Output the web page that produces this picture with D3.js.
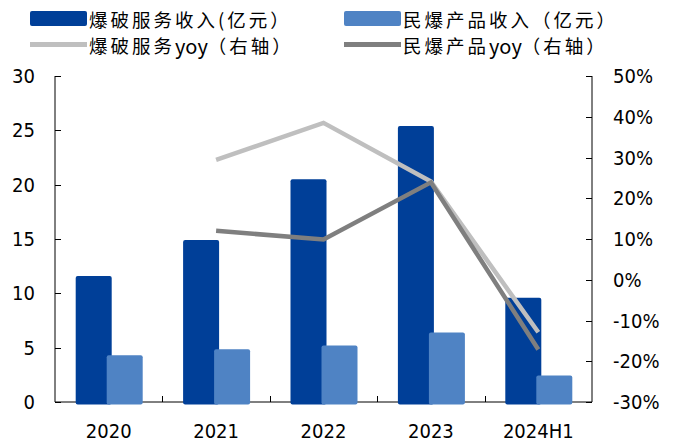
<!DOCTYPE html>
<html><head><meta charset="utf-8">
<script src="https://cdn.jsdelivr.net/npm/d3@7"></script>
<style>
html,body{margin:0;padding:0;background:#fff;}
svg{display:block;}
.num{font-family:"DejaVu Sans Condensed","DejaVu Sans",sans-serif;font-stretch:condensed;font-size:20px;fill:#000;}
.leg{font-family:"Noto Sans CJK SC",sans-serif;font-size:18.5px;letter-spacing:3px;fill:#000;}
</style></head>
<body>
<script>
const categories = ["2020","2021","2022","2023","2024H1"];
const blastRevenue = [11.6, 14.9, 20.5, 25.4, 9.6];
const productRevenue = [4.3, 4.85, 5.2, 6.4, 2.45];
const blastYoy = [null, 29.4, 38.5, 24.1, -12.9];
const productYoy = [null, 12.0, 9.9, 23.9, -17.1];
const leftTicks = [0,5,10,15,20,25,30];
const rightTicks = [-30,-20,-10,0,10,20,30,40,50];
const legendLabels = ["爆破服务收入(亿元）","民爆产品收入（亿元）","爆破服务yoy（右轴）","民爆产品yoy（右轴）"];

const W=680,H=444;
const svg=d3.select("body").append("svg").attr("width",W).attr("height",H);
const x=d3.scaleBand().domain(categories).range([55,592]).padding(0);
const yL=d3.scaleLinear().domain([0,30]).range([402,76]);
const yR=d3.scaleLinear().domain([-30,50]).range([402,76]);
const cx=c=>x(c)+x.bandwidth()/2;
const darkC="#003F98", lightC="#4F83C4", lgray="#BFBFBF", dgray="#7F7F7F";

// axes lines
const axC="#000";
svg.append("line").attr("x1",55).attr("x2",55).attr("y1",yL(30)).attr("y2",yL(0)).attr("stroke",axC);
svg.append("line").attr("x1",592).attr("x2",592).attr("y1",yR(50)).attr("y2",yR(-30)).attr("stroke",axC);
svg.append("line").attr("x1",55).attr("x2",592).attr("y1",yL(0)).attr("y2",yL(0)).attr("stroke",axC);
// left ticks
svg.selectAll(".lt").data(leftTicks).enter().append("line")
 .attr("x1",55).attr("x2",61).attr("y1",d=>Math.round(yL(d))+0.5).attr("y2",d=>Math.round(yL(d))+0.5).attr("stroke",axC);
svg.selectAll(".ll").data(leftTicks).enter().append("text").attr("class","num")
 .attr("x",35).attr("y",d=>yL(d)).attr("text-anchor","end").attr("dominant-baseline","central").text(d=>d);
// right ticks
svg.selectAll(".rt").data(rightTicks).enter().append("line")
 .attr("x1",586).attr("x2",592).attr("y1",d=>Math.round(yR(d))+0.5).attr("y2",d=>Math.round(yR(d))+0.5).attr("stroke",axC);
svg.selectAll(".rl").data(rightTicks).enter().append("text").attr("class","num")
 .attr("x",613).attr("y",d=>yR(d)).attr("dominant-baseline","central").text(d=>d+"%");
// bottom ticks (boundaries)
svg.selectAll(".bt").data(categories.slice(1)).enter().append("line")
 .attr("x1",d=>Math.round(x(d))+0.5).attr("x2",d=>Math.round(x(d))+0.5).attr("y1",396).attr("y2",402).attr("stroke",axC);
svg.selectAll(".bl").data(categories).enter().append("text").attr("class","num")
 .attr("x",d=>cx(d)).attr("y",438).attr("text-anchor","middle").text(d=>d);

// bars
const bw=36;
svg.selectAll(".b1").data(categories).enter().append("rect")
 .attr("x",(d)=>cx(d)-33).attr("width",bw)
 .attr("y",(d,i)=>yL(blastRevenue[i])).attr("height",(d,i)=>yL(0)-yL(blastRevenue[i])+2.5)
 .attr("rx",2).attr("fill",darkC);
svg.selectAll(".b2").data(categories).enter().append("rect")
 .attr("x",(d)=>cx(d)-2).attr("width",bw)
 .attr("y",(d,i)=>yL(productRevenue[i])).attr("height",(d,i)=>yL(0)-yL(productRevenue[i])+2.5)
 .attr("rx",2).attr("fill",lightC);

// lines
const line=d3.line().defined(d=>d.v!=null).x(d=>cx(d.c)).y(d=>yR(d.v));
svg.append("path").datum(categories.map((c,i)=>({c,v:blastYoy[i]})))
 .attr("d",line).attr("fill","none").attr("stroke",lgray).attr("stroke-width",4.5);
svg.append("path").datum(categories.map((c,i)=>({c,v:productYoy[i]})))
 .attr("d",line).attr("fill","none").attr("stroke",dgray).attr("stroke-width",4.5);

// legend
const lg=svg.append("g");
const legItems=[
 {t:legendLabels[0],type:"rect",c:darkC,x:30,y:18.5},
 {t:legendLabels[1],type:"rect",c:lightC,x:344,y:18.5},
 {t:legendLabels[2],type:"line",c:lgray,x:30,y:44.5},
 {t:legendLabels[3],type:"line",c:dgray,x:344,y:44.5}
];
legItems.forEach(it=>{
 if(it.type==="rect") lg.append("rect").attr("x",it.x).attr("y",it.y-7.5).attr("width",57).attr("height",15).attr("rx",2).attr("fill",it.c);
 else lg.append("line").attr("x1",it.x).attr("x2",it.x+57).attr("y1",it.y).attr("y2",it.y).attr("stroke",it.c).attr("stroke-width",5);
 const t=lg.append("text").attr("class","leg").attr("x",it.x+59).attr("y",it.y).attr("dominant-baseline","central");
 // split Latin runs so they aren't letter-spaced
 const parts=it.t.split(/(yoy)/);
 parts.forEach(p=>{
   if(!p) return;
   const s=t.append("tspan").text(p);
   if(p==="yoy") s.attr("style","letter-spacing:0;font-size:20px");
 });
});
</script>
</body></html>
